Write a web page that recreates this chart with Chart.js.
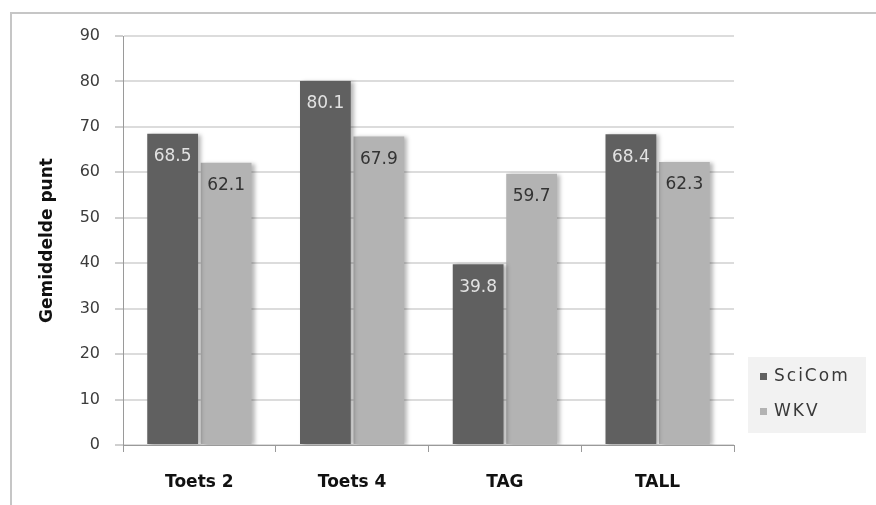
<!DOCTYPE html>
<html>
<head>
<meta charset="utf-8">
<script src="https://cdn.jsdelivr.net/npm/chart.js@4"></script>
<style>
  html, body { margin: 0; padding: 0; background: #fff; }
  #frame { position: absolute; left: 10px; top: 12px; width: 900px; height: 600px; border: 2px solid #c6c6c6; }
  #wrap { position: absolute; left: 0; top: 0; width: 876px; height: 505px; }
</style>
</head>
<body>
<div id="frame"></div>
<div id="wrap"><canvas id="c" width="876" height="505"></canvas></div>
<script>
// Average scores per test, two groups
const categories = ['Toets 2', 'Toets 4', 'TAG', 'TALL'];
const sciComValues = [68.5, 80.1, 39.8, 68.4];
const wkvValues = [62.1, 67.9, 59.7, 62.3];
const seriesNames = ['SciCom', 'WKV'];
const seriesColors = ['#606060', '#b3b3b3'];
const labelColors = ['#e2e2e2', '#333333'];
const yMin = 0, yMax = 90, yStep = 10;
const yTitle = 'Gemiddelde punt';

const FONT = '"DejaVu Sans", sans-serif';

// Soft shadow behind bars, then value labels inside the bar tops
const barDecor = {
  id: 'barDecor',
  beforeDatasetsDraw(chart) {
    const ctx = chart.ctx;
    ctx.save();
    ctx.shadowColor = 'rgba(0,0,0,0.28)';
    ctx.shadowBlur = 4;
    ctx.shadowOffsetX = 3;
    ctx.shadowOffsetY = 1;
  },
  afterDatasetsDraw(chart) {
    const ctx = chart.ctx;
    ctx.restore();
    ctx.save();
    ctx.font = '17px ' + FONT;
    ctx.textAlign = 'center';
    ctx.textBaseline = 'middle';
    chart.data.datasets.forEach((ds, i) => {
      const meta = chart.getDatasetMeta(i);
      ctx.fillStyle = labelColors[i];
      meta.data.forEach((el, j) => {
        ctx.fillText(ds.data[j].toFixed(1), el.x, el.y + 23);
      });
    });
    ctx.restore();
  }
};

// Boxed legend to the right of the plot
const sideLegend = {
  id: 'sideLegend',
  afterDraw(chart) {
    const ctx = chart.ctx;
    const area = chart.chartArea;
    const bx = area.right + 14, by = 357, bw = 118, bh = 76;
    ctx.save();
    ctx.fillStyle = '#f2f2f2';
    ctx.fillRect(bx, by, bw, bh);
    ctx.font = '17px ' + FONT;
    ctx.textBaseline = 'middle';
    ctx.letterSpacing = '2px';
    chart.data.datasets.forEach((ds, i) => {
      const cy = by + 20 + i * 35;
      ctx.fillStyle = ds.backgroundColor;
      ctx.fillRect(bx + 12, cy - 4, 7, 7);
      ctx.fillStyle = '#3a3a3a';
      ctx.fillText(ds.label, bx + 26, cy);
    });
    ctx.restore();
  }
};

new Chart(document.getElementById('c'), {
  type: 'bar',
  data: {
    labels: categories,
    datasets: [
      { label: seriesNames[0], data: sciComValues, backgroundColor: seriesColors[0], order: 1 },
      { label: seriesNames[1], data: wkvValues, backgroundColor: seriesColors[1], order: 2 }
    ]
  },
  options: {
    responsive: false,
    animation: false,
    devicePixelRatio: 1,
    layout: { padding: { left: 0, right: 142, top: 36, bottom: 0 } },
    datasets: { bar: { categoryPercentage: 0.70, barPercentage: 0.95 } },
    plugins: { legend: { display: false }, tooltip: { enabled: false } },
    scales: {
      x: {
        grid: { offset: true, drawOnChartArea: false, tickLength: 7, color: '#9a9a9a' },
        border: { display: true, color: '#9a9a9a', width: 1 },
        ticks: { font: { family: FONT, size: 17, weight: 'bold' }, color: '#111', padding: 20 },
        afterFit(s) { s.height = 60; }
      },
      y: {
        min: yMin, max: yMax,
        ticks: { stepSize: yStep, font: { family: FONT, size: 16 }, color: '#3c3c3c', padding: 15 },
        grid: { color: '#dcdcdc', lineWidth: 2, tickLength: 8, tickColor: '#a0a0a0', tickWidth: 1 },
        border: { display: true, color: '#9a9a9a', width: 1 },
        title: { display: true, text: yTitle, font: { family: FONT, size: 17, weight: 'bold' }, color: '#111', padding: { top: 37, bottom: 0 } },
        afterFit(s) { s.width = 123; }
      }
    }
  },
  plugins: [barDecor, sideLegend]
});
</script>
</body>
</html>
